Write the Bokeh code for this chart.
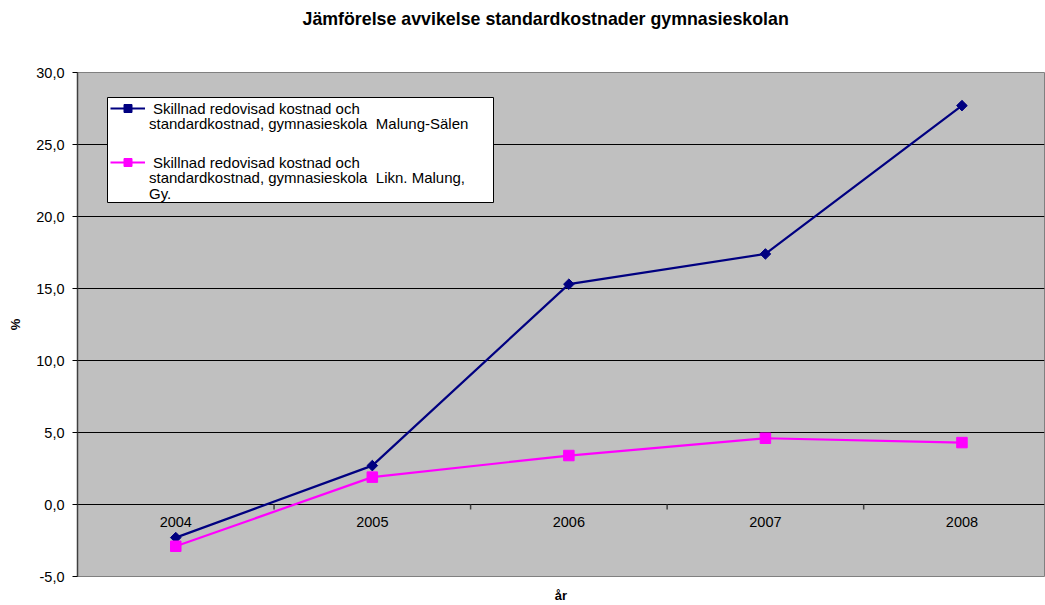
from bokeh.plotting import figure
from bokeh.models import (Range1d, FixedTicker, CustomJSTickFormatter, Legend, LegendItem,
                          LinearAxis, ColumnDataSource, Title, BoxAnnotation)
from bokeh.core.properties import value
from bokeh.embed import file_html
from bokeh.resources import INLINE
import math

# ---- data ----
years = [2004, 2005, 2006, 2007, 2008]
year_labels = ["2004", "2005", "2006", "2007", "2008"]
malung_salen = [-2.3, 2.7, 15.3, 17.4, 27.7]
likn_malung = [-2.9, 1.9, 3.4, 4.6, 4.3]
y_ticks = [-5, 0, 5, 10, 15, 20, 25, 30]

title_text = "Jämförelse avvikelse standardkostnader gymnasieskolan"
x_title = "år"
y_title = "%"
label_a = ["Skillnad redovisad kostnad och",
           "standardkostnad, gymnasieskola  Malung-Sälen"]
label_b = ["Skillnad redovisad kostnad och",
           "standardkostnad, gymnasieskola  Likn. Malung,",
           "Gy."]

FONT = "Liberation Sans"

p = figure(width=1045, height=605, output_backend="svg", toolbar_location=None,
           x_range=Range1d(years[0] - 0.5, years[-1] + 0.42),
           y_range=Range1d(-5, 30),
           min_border_left=77, min_border_right=1, min_border_top=72, min_border_bottom=29,
           x_axis_location=None)

p.background_fill_color = "#C0C0C0"
p.border_fill_color = "white"
p.outline_line_color = "#808080"
p.outline_line_width = 1

# title, with an empty spacer panel between it and the frame
p.title.text = title_text
p.title.text_font = FONT
p.title.text_font_size = "17.8px"
p.title.text_font_style = "bold"
p.title.text_color = "black"
p.title.align = "left"
p.title.offset = 225
p.title.standoff = 0
p.add_layout(Title(text=" ", text_font_size="1px", standoff=41), "above")

# y axis
ya = p.yaxis[0]
ya.ticker = FixedTicker(ticks=y_ticks)
ya.formatter = CustomJSTickFormatter(code="return tick.toFixed(1).replace('.', ',');")
ya.major_label_text_font = FONT
ya.major_label_text_font_size = "14.5px"
ya.major_label_text_color = "black"
ya.major_tick_in = 0
ya.major_tick_out = 5
ya.major_tick_line_color = "black"
ya.minor_tick_line_color = None
ya.major_label_standoff = 8
ya.axis_line_color = "#404040"
ya.axis_line_width = 1.5
ya.axis_label = y_title
ya.axis_label_text_font = FONT
ya.axis_label_text_font_size = "13px"
ya.axis_label_text_font_style = "bold"
ya.axis_label_text_color = "black"
ya.axis_label_standoff = 10

# bottom axis only for the "år" title
xa = LinearAxis(ticker=FixedTicker(ticks=[]), axis_line_color=None,
                major_tick_line_color=None, minor_tick_line_color=None,
                major_tick_in=0, major_tick_out=0, minor_tick_out=0,
                axis_label=x_title, axis_label_text_font=FONT,
                axis_label_text_font_size="13px", axis_label_text_font_style="bold",
                axis_label_text_color="black", axis_label_standoff=11)
p.add_layout(xa, "below")

p.xgrid.grid_line_color = None
p.ygrid.grid_line_color = "black"
p.ygrid.grid_line_width = 1
p.ygrid.ticker = FixedTicker(ticks=y_ticks)

# category ticks and labels on the zero line
bounds = [y + 0.5 for y in years[:-1]]
p.segment(x0=bounds, y0=[0] * len(bounds), x1=bounds, y1=[-0.35] * len(bounds),
          line_color="#404040", line_width=1.5)
p.text(x=years, y=[0] * len(years), text=year_labels, text_align="center",
       text_baseline="top", y_offset=12, text_font=value(FONT),
       text_font_size="14.5px", text_color="black")

# series
src = ColumnDataSource(dict(x=years, a=malung_salen, b=likn_malung))
la = p.line("x", "a", source=src, line_color="#000080", line_width=2.2)
ma = p.scatter("x", "a", source=src, marker="square", angle=math.pi / 4, size=7.5,
               fill_color="#000080", line_color="#000080")
lb = p.line("x", "b", source=src, line_color="#FF00FF", line_width=2.2)
mb = p.scatter("x", "b", source=src, marker="square", size=10.5,
               fill_color="#FF00FF", line_color="#FF00FF")

# invisible renderer for continuation lines of legend labels
dummy = p.line(x=[], y=[], line_alpha=0)

# legend frame (screen px relative to the plot frame, y measured upwards)
p.add_layout(BoxAnnotation(left=30, right=416, bottom=374, top=479,
                           left_units="screen", right_units="screen",
                           bottom_units="screen", top_units="screen",
                           fill_color="white", fill_alpha=1,
                           line_color="black", line_width=1, line_alpha=1))

# one borderless legend per text line, so line spacing matches the original
lines = [(label_a[0], [la, ma], 458, 8), (label_a[1], [dummy], 443, 4),
         (label_b[0], [lb, mb], 404, 8), (label_b[1], [dummy], 389, 4),
         (label_b[2], [dummy], 373, 4)]
for text, rends, ypos, standoff in lines:
    p.add_layout(Legend(items=[LegendItem(label=value(text), renderers=rends)],
                        location=(33, ypos), padding=0, margin=0, spacing=0,
                        label_text_font=FONT, label_text_font_size="15px",
                        label_text_color="black", glyph_width=35, glyph_height=20,
                        label_height=20, label_standoff=standoff,
                        background_fill_alpha=0, border_line_alpha=0), "center")

open("out.html", "w").write(file_html(p, INLINE))
